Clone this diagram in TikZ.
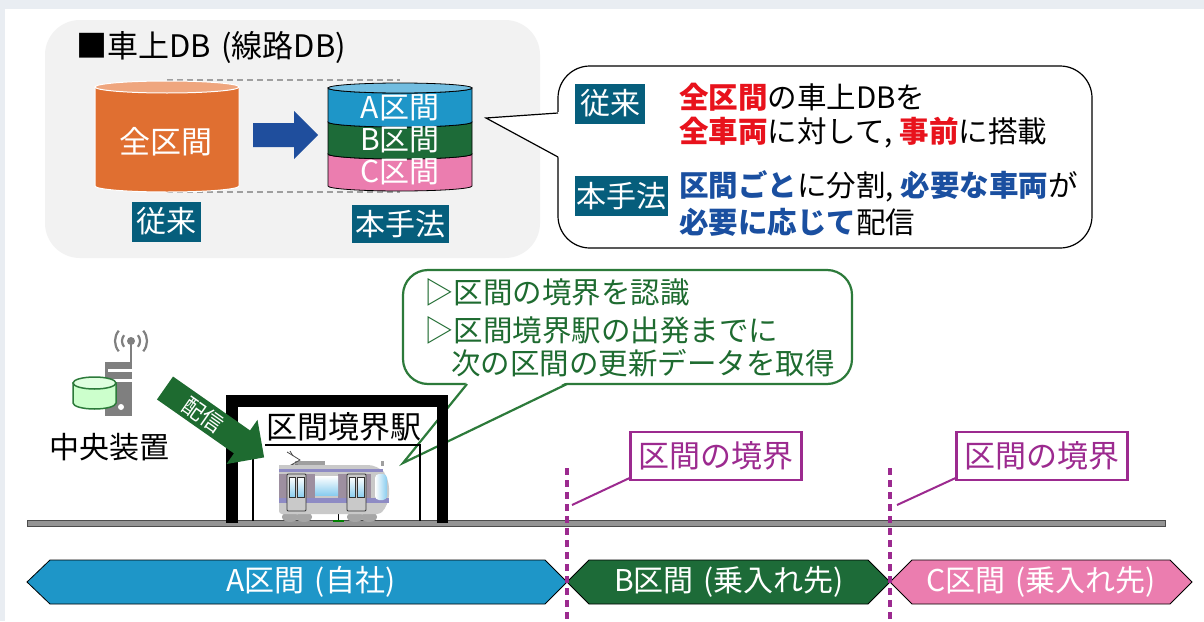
\documentclass[tikz,border=0pt]{standalone}
\usepackage{fontspec}
\setmainfont{Noto Sans CJK JP}
\usetikzlibrary{calc}

\definecolor{frameC}{HTML}{E9EDF2}
\definecolor{panelC}{HTML}{F2F2F2}
\definecolor{orangeC}{HTML}{E06F31}
\definecolor{orangeTop}{HTML}{EFA67E}
\definecolor{arrowBlue}{HTML}{1F4E9D}
\definecolor{secA}{HTML}{1E96C8}
\definecolor{secAtop}{HTML}{72BDE0}
\definecolor{secB}{HTML}{1D6B38}
\definecolor{secC}{HTML}{EB7DAF}
\definecolor{tagC}{HTML}{065E7C}
\definecolor{redC}{HTML}{E8121C}
\definecolor{blueC}{HTML}{1A4FA0}
\definecolor{greenC}{HTML}{1E6B30}
\definecolor{greenLine}{HTML}{2C7A3A}
\definecolor{purpleC}{HTML}{9C2A8F}
\definecolor{grayIcon}{HTML}{7F7F7F}
\definecolor{trainBody}{HTML}{C9C9C9}
\definecolor{trainStripe}{HTML}{8E8BC4}
\definecolor{trainPanel}{HTML}{9D8FA0}
\definecolor{glass}{HTML}{8ACDEF}

\tikzset{
  big/.style={font=\fontsize{30}{36}\selectfont},
  mid/.style={font=\fontsize{29.5}{35}\selectfont},
  txt/.style={big, inner sep=0pt},
  tagbox/.style={big, fill=tagC, text=white, inner sep=0pt, minimum height=40pt},
  wtxt/.style={big, text=white, inner sep=0pt},
  bandline/.style={draw=black, line width=0.8pt},
  sectionarrow/.style={draw=black, line width=0.8pt},
  boundary/.style={draw=purpleC, line width=3.6pt, dash pattern=on 7pt off 5pt},
  bordertag/.style={font=\fontsize{31}{36}\selectfont, draw=purpleC, line width=2.2pt, fill=white, text=purpleC, inner xsep=8pt, minimum height=48pt},
  guide/.style={draw=gray!75, line width=2pt, dash pattern=on 6pt off 4pt},
}

\begin{document}
\begin{tikzpicture}[x=1pt,y=-1pt]
\useasboundingbox (0,0) rectangle (1204,621);
\fill[frameC] (0,0) rectangle (1204,621);
\fill[white] (5,9) rectangle (1204,621);

% ---------- on-board database panel ----------
\fill[panelC, rounded corners=35pt] (45,20) rectangle (540,258);
\node[txt, anchor=west, font=\fontsize{31}{36}\selectfont] (title) at (76,48) {■車上DB\,\,(線路DB)};

% dashed guides between the two databases
\coordinate (gTopL) at (167,80);
\coordinate (gTopR) at (400,80);
\coordinate (gBotL) at (167,192);
\coordinate (gBotR) at (400,192);
\draw[guide] (gTopL) -- (gTopR);
\draw[guide] (gBotL) -- (gBotR);

% conventional: one database for all sections
\fill[orangeC, draw=white, line width=1pt] (95,87) -- (95,186)
  arc[start angle=180, end angle=360, x radius=72pt, y radius=6pt] -- (239,87) -- cycle;
\fill[orangeTop, draw=white, line width=1pt] (167,87) ellipse[x radius=72pt, y radius=6pt];
\node[wtxt, font=\fontsize{31}{36}\selectfont] (allsec) at (166,142) {全区間};

% split arrow
\fill[arrowBlue] (253,123) -- (294,123) -- (294,111) -- (318,135) -- (294,159) -- (294,147) -- (253,147) -- cycle;

% proposed: database split per section
\filldraw[fill=secC, bandline] (328,154) -- (328,186)
  arc[start angle=180, end angle=360, x radius=72pt, y radius=5pt] -- (472,154)
  arc[start angle=0, end angle=-180, x radius=72pt, y radius=5pt] -- cycle;
\filldraw[fill=secB, bandline] (328,122) -- (328,154)
  arc[start angle=180, end angle=360, x radius=72pt, y radius=5pt] -- (472,122)
  arc[start angle=0, end angle=-180, x radius=72pt, y radius=5pt] -- cycle;
\filldraw[fill=secA, bandline] (328,88) -- (328,122)
  arc[start angle=180, end angle=360, x radius=72pt, y radius=5pt] -- (472,88)
  arc[start angle=0, end angle=-180, x radius=72pt, y radius=5pt] -- cycle;
\filldraw[fill=secAtop, bandline] (400,88) ellipse[x radius=72pt, y radius=5pt];
\node[wtxt] (dbA) at (400,108) {A区間};
\node[wtxt] (dbB) at (400,140) {B区間};
\node[wtxt] (dbC) at (400,172) {C区間};

\node[tagbox, minimum width=69pt] (tagOld) at (166.5,221.5) {従来};
\node[tagbox, minimum width=97pt, minimum height=38pt] (tagNew) at (400.5,224) {本手法};

% ---------- comparison callout ----------
\draw[fill=white, line width=1.2pt, rounded corners=32pt] (558,66) rectangle (1092,248);
\fill[white] (560,112) -- (486,118) -- (560,158) -- cycle;
\draw[line width=1.2pt] (558,113) -- (486,118) -- (558,157);
\node[tagbox, minimum width=70pt] (cmpOld) at (610,103.5) {従来};
\node[tagbox, minimum width=93pt] (cmpNew) at (621.5,196) {本手法};
\node[txt, mid, anchor=west] (l1) at (679,97) {{\bfseries\color{redC}全区間}の車上DBを};
\node[txt, mid, anchor=west] (l2) at (679,133) {{\bfseries\color{redC}全車両}に対して, {\bfseries\color{redC}事前}に搭載};
\node[txt, mid, anchor=west] (l3) at (679,186) {{\bfseries\color{blueC}区間ごと}に分割, {\bfseries\color{blueC}必要な車両}が};
\node[txt, mid, anchor=west] (l4) at (679,222) {{\bfseries\color{blueC}必要に応じて}配信};

% ---------- boundary-station callout ----------
\draw[fill=white, draw=greenLine, line width=2.2pt, rounded corners=25pt] (403,270) rectangle (852,384);
\fill[white] (467,382) -- (403,463) -- (567,382) -- cycle;
\draw[greenLine, line width=2.2pt, line join=miter] (467,384) -- (403,463) -- (567,384);
\node[txt, mid, text=greenC, anchor=west] (g1) at (424,292) {▷区間の境界を認識};
\node[txt, mid, text=greenC, anchor=west] (g2) at (424,330) {▷区間境界駅の出発までに};
\node[txt, mid, text=greenC, anchor=west] (g3) at (451,363) {次の区間の更新データを取得};

% ---------- central server ----------
\fill[grayIcon] (105,362) rectangle (132,416);
\fill[white] (108,369) rectangle (132,372);
\fill[white] (108,379) rectangle (132,382);
\fill[white] (121,407) circle[radius=3pt];
\draw[grayIcon, line width=2.5pt] (131,364) -- (131,341);
\fill[grayIcon] (131,341) circle[radius=4pt];
\foreach \r in {9,16}{
  \draw[grayIcon, line width=2.2pt] ($(131,341)+(140:\r pt)$) arc[start angle=140, end angle=220, radius=\r pt];
  \draw[grayIcon, line width=2.2pt] ($(131,341)+(40:\r pt)$) arc[start angle=40, end angle=-40, radius=\r pt];
}
\filldraw[fill=green!20!white, draw=greenLine, line width=1.5pt] (73,383) -- (73,403)
  arc[start angle=180, end angle=360, x radius=21.5pt, y radius=6pt] -- (116,383) -- cycle;
\filldraw[fill=green!12!white, draw=greenLine, line width=1.5pt] (94.5,383) ellipse[x radius=21.5pt, y radius=6pt];
\node[txt] (server) at (109,447) {中央装置};

% ---------- track ----------
\filldraw[fill=gray!80!black!70, draw=black!70, line width=0.8pt] (27,520) rectangle (1165,526);

% ---------- boundary station ----------
\fill[black] (226,395) rectangle (448,407);
\fill[black] (226,395) rectangle (238,523);
\fill[black] (437,395) rectangle (448,523);
\draw[black, line width=2pt] (265,445) -- (420,445) -- (420,521);
\draw[black, line width=2pt] (253,455) -- (253,521);
\node[txt, font=\fontsize{31}{36}\selectfont] (station) at (344,427) {区間境界駅};

% ---------- train ----------
\fill[gray!70] (290,517) ellipse[x radius=8pt, y radius=5pt];
\fill[gray!70] (304,517) ellipse[x radius=8pt, y radius=5pt];
\fill[gray!70] (355,517) ellipse[x radius=8pt, y radius=5pt];
\fill[gray!70] (369,517) ellipse[x radius=8pt, y radius=5pt];
\draw[black, line width=1pt] (338,512) -- (338,520);
\draw[green!50!black, line width=2pt] (333,521) -- (344,521);
\fill[gray!75] (295,461) rectangle (325,466);
\fill[gray!75] (381,461) rectangle (384,466);
\draw[gray!60!black, line width=0.8pt] (287,452) -- (292,455) -- (300,460) -- (291,465) -- (298,465);
\draw[gray!60!black, line width=0.8pt] (290,451) -- (293,456);
\fill[trainBody, rounded corners=3pt] (279,465) -- (279,514) -- (380,514) [rounded corners=10pt] -- (389,505) -- (389,478) -- (378,465) [sharp corners] -- cycle;
\fill[trainStripe] (279,469) rectangle (383,472);
\fill[trainStripe] (279,498) rectangle (389,503);
\fill[trainPanel] (279,474) rectangle (287,498);
\fill[trainPanel] (305,474) rectangle (315,498);
\fill[trainPanel] (338,474) rectangle (347,498);
\fill[trainPanel] (366,474) rectangle (371,498);
\shade[top color=white, bottom color=glass] (315,476) rectangle (338,495);
\foreach \dx in {287,347}{
  \filldraw[fill=trainBody, draw=gray!40!black, line width=0.8pt, rounded corners=1pt] (\dx,474) rectangle (\dx+19,511);
  \shade[top color=white, bottom color=glass] (\dx+2,477) rectangle (\dx+8.5,497);
  \shade[top color=white, bottom color=glass] (\dx+10.5,477) rectangle (\dx+17,497);
  \draw[gray!40!black, line width=0.6pt] (\dx+2,477) rectangle (\dx+8.5,497);
  \draw[gray!40!black, line width=0.6pt] (\dx+10.5,477) rectangle (\dx+17,497);
}
\shade[left color=white, right color=glass, rounded corners=4pt] (375,474) rectangle (387,500);

% ---------- distribution arrow ----------
\begin{scope}[shift={(165,388)}, rotate=-35]
  \fill[greenC] (0,14) -- (94,14) -- (94,27) -- (121,0) -- (94,-27) -- (94,-14) -- (0,-14) -- cycle;
  \node[wtxt, font=\fontsize{22}{26}\selectfont, transform shape] (dist) at (47,0) {配信};
\end{scope}

% ---------- section arrows ----------
\filldraw[fill=secA, sectionarrow] (27,582) -- (50,560) -- (545,560) -- (567,582) -- (545,604) -- (50,604) -- cycle;
\filldraw[fill=secB, sectionarrow] (567,582) -- (589,560) -- (868,560) -- (890,582) -- (868,604) -- (589,604) -- cycle;
\filldraw[fill=secC, sectionarrow] (890,582) -- (912,560) -- (1170,560) -- (1192,582) -- (1170,604) -- (912,604) -- cycle;
\node[wtxt] (secAlabel) at (311,582) {A区間\,\,(自社)};
\node[wtxt] (secBlabel) at (729,582) {B区間\,\,(乗入れ先)};
\node[wtxt] (secClabel) at (1041,582) {C区間\,\,(乗入れ先)};

% ---------- section boundaries ----------
\coordinate (b1top) at (567,468);
\coordinate (b1bot) at (567,621);
\coordinate (b2top) at (890,468);
\coordinate (b2bot) at (890,621);
\draw[boundary] (b1top) -- (b1bot);
\draw[boundary] (b2top) -- (b2bot);
\node[bordertag] (bt1) at (716,456) {区間の境界};
\node[bordertag] (bt2) at (1042,456) {区間の境界};
\coordinate (lead1) at (572,505);
\coordinate (lead2) at (897,505);
\draw[purpleC, line width=2pt] (bt1.south west) ++(0,-3) -- (lead1);
\draw[purpleC, line width=2pt] (bt2.south west) ++(0,-3) -- (lead2);
\end{tikzpicture}
\end{document}
